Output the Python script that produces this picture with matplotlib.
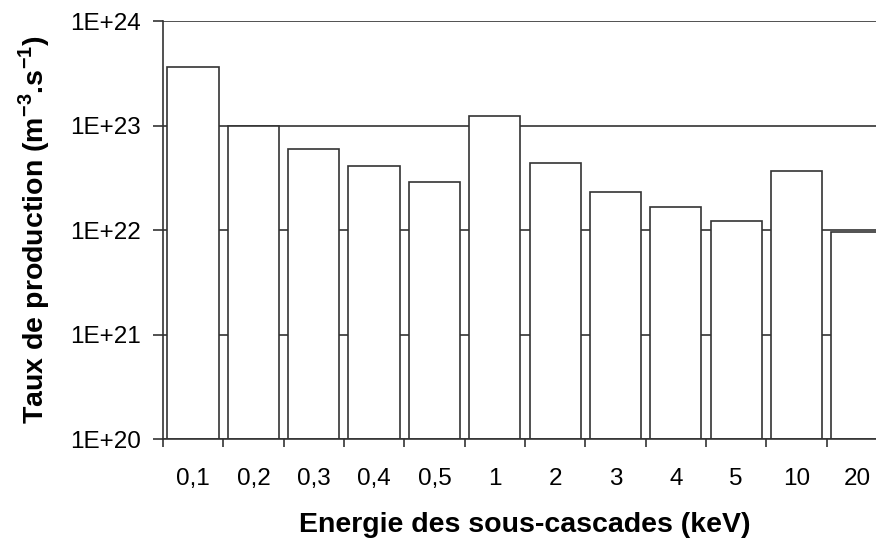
import numpy as np
import matplotlib
matplotlib.use("Agg")
import matplotlib.pyplot as plt

plt.rcParams['font.family'] = ['Liberation Sans', 'DejaVu Sans']
plt.rcParams['mathtext.fontset'] = 'custom'
plt.rcParams['mathtext.rm'] = 'Liberation Sans'
plt.rcParams['mathtext.bf'] = 'Liberation Sans:bold'

# energies of the sub-cascades (keV) and production rates (m^-3.s^-1)
energies = ['0,1', '0,2', '0,3', '0,4', '0,5', '1', '2', '3', '4', '5', '10', '20']
rates = [3.6e23, 1.0e23, 6.0e22, 4.1e22, 2.85e22, 1.22e23,
         4.4e22, 2.3e22, 1.65e22, 1.22e22, 3.67e22, 9.6e21]

line_col = '#333333'

fig = plt.figure(figsize=(8.76, 5.39), dpi=100)
# the original is cropped on the right, so the axes run past the figure edge
ax = fig.add_axes([0.186, 0.1855, 1.0126 - 0.186, 0.961 - 0.1855])

x = np.arange(len(energies))
ax.bar(x, np.array(rates) - 1e20, bottom=1e20, width=0.85, color='white',
       edgecolor=line_col, linewidth=1.2, zorder=3)

ax.set_yscale('log')
ax.set_ylim(1e20, 1e24)
ax.set_xlim(-0.5, len(energies) - 0.5)

yticks = [1e20, 1e21, 1e22, 1e23, 1e24]
ax.set_yticks(yticks)
ax.set_yticklabels(['1E+20', '1E+21', '1E+22', '1E+23', '1E+24'])
ax.yaxis.set_minor_locator(matplotlib.ticker.NullLocator())
ax.grid(axis='y', which='major', color=line_col, linewidth=1.2, zorder=0)
ax.set_axisbelow(True)

# ticks between categories, labels at centres
ax.set_xticks(np.arange(len(energies)) - 0.5)
ax.set_xticklabels([])
ax.set_xticks(x, minor=True)
ax.set_xticklabels(energies, minor=True)
ax.tick_params(axis='x', which='major', direction='out', length=6, width=1.2, color=line_col)
ax.tick_params(axis='x', which='minor', length=0, pad=21, labelsize=17.5)
ax.tick_params(axis='y', direction='out', length=7, width=1.2, color=line_col,
               labelsize=17.5, pad=9)

for s in ['top', 'right']:
    ax.spines[s].set_visible(False)
for s in ['left', 'bottom']:
    ax.spines[s].set_color(line_col)
    ax.spines[s].set_linewidth(1.2)
    ax.spines[s].set_zorder(4)

ax.set_xlabel('Energie des sous-cascades (keV)', fontsize=20.5, fontweight='bold', labelpad=16)
ax.set_ylabel(r'Taux de production (m$^{\mathbf{-3}}$.s$^{\mathbf{-1}}$)',
              fontsize=20.5, fontweight='bold', labelpad=13)

fig.savefig('out.png', dpi=100)
